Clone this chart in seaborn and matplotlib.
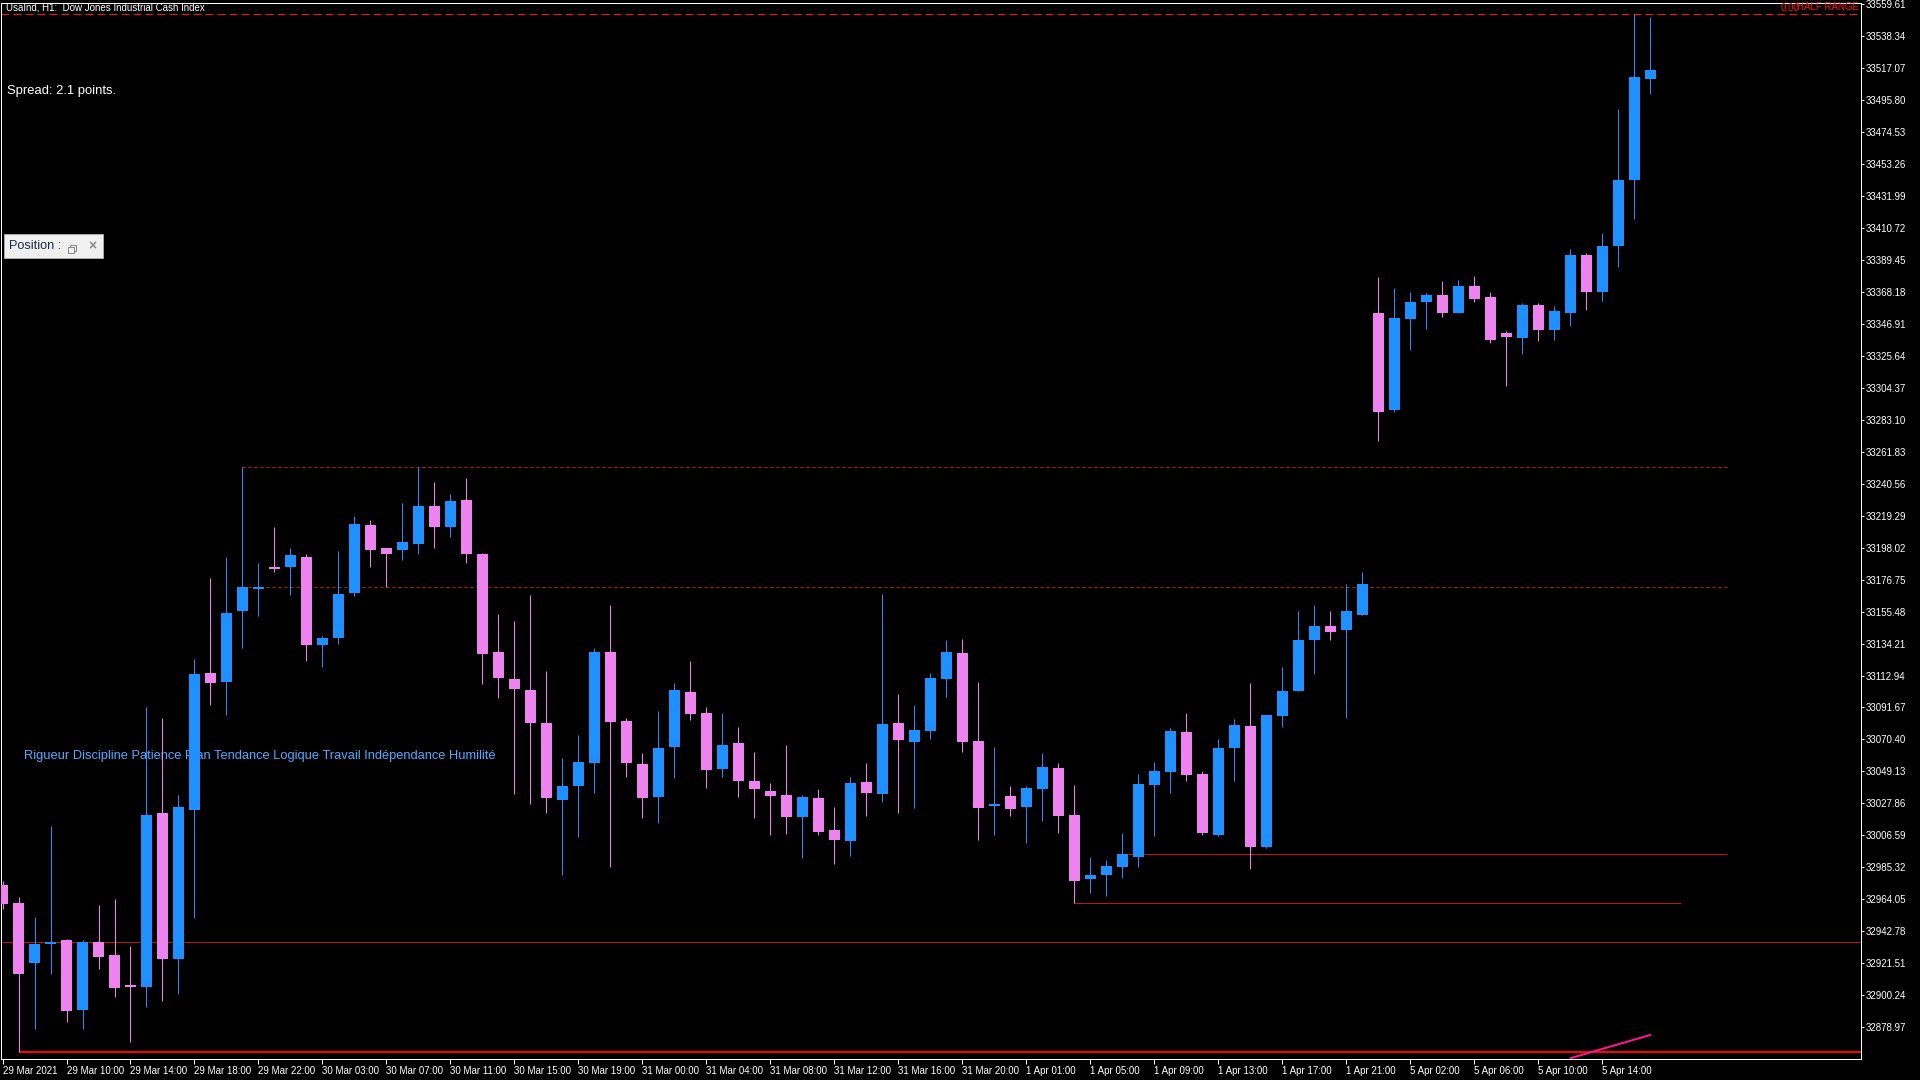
import matplotlib
matplotlib.use("Agg")
import matplotlib.pyplot as plt
from matplotlib.patches import Rectangle
import seaborn as sns
import numpy as np
import pandas as pd

# OHLC H1 - UsaInd
opens = [32973.4, 32961.5, 32922.0, 32934.7, 32937.0, 32890.8, 32935.7, 32926.9, 32906.5, 32906.0,
         33021.2, 32924.6, 33023.5, 33114.9, 33108.4, 33155.7, 33170.7, 33185.1, 33184.9, 33191.8,
         33133.0, 33137.6, 33167.6, 33213.0, 33197.8, 33196.7, 33200.1, 33225.7, 33212.0, 33229.5,
         33193.9, 33128.8, 33110.8, 33103.5, 33081.1, 33030.4, 33039.2, 33055.0, 33128.5, 33082.7,
         33054.1, 33032.1, 33065.6, 33101.9, 33088.0, 33051.0, 33068.0, 33042.8, 33036.1, 33033.5,
         33019.0, 33031.5, 33010.2, 33003.1, 33042.1, 33034.3, 33081.3, 33068.9, 33076.2, 33110.8,
         33127.9, 33069.4, 33026.4, 33032.8, 33025.7, 33037.7, 33051.4, 33020.2, 32977.8, 32980.5,
         32985.8, 32992.5, 33040.4, 33048.6, 33075.1, 33047.4, 33007.2, 33064.6, 33079.4, 32999.0,
         33085.7, 33102.4, 33136.4, 33145.7, 33143.0, 33153.5, 33354.1, 33289.3, 33349.8, 33361.1,
         33365.8, 33354.1, 33372.0, 33364.6, 33340.4, 33337.3, 33359.2, 33342.8, 33354.1, 33392.3,
         33367.7, 33398.5, 33442.3, 33509.4]
highs = [32976.0, 32965.4, 32952.2, 33013.2, 32937.5, 32937.0, 32960.2, 32964.1, 32932.9, 33091.7,
         33085.0, 33033.8, 33124.2, 33177.9, 33191.9, 33251.3, 33188.0, 33211.7, 33197.8, 33193.9,
         33139.4, 33195.7, 33219.0, 33216.4, 33197.8, 33227.7, 33251.3, 33241.7, 33233.7, 33244.3,
         33194.4, 33153.9, 33149.2, 33166.3, 33116.2, 33057.8, 33073.1, 33131.2, 33159.8, 33084.7,
         33061.4, 33089.3, 33107.9, 33122.6, 33092.0, 33088.0, 33078.7, 33062.1, 33041.4, 33066.7,
         33033.5, 33037.4, 33025.5, 33045.4, 33054.7, 33167.1, 33100.6, 33093.3, 33114.6, 33136.5,
         33137.2, 33108.6, 33065.4, 33039.4, 33039.4, 33061.4, 33054.7, 33040.1, 32992.2, 32990.2,
         33008.2, 33047.4, 33055.6, 33077.9, 33088.0, 33049.4, 33070.4, 33084.1, 33107.9, 33086.4,
         33118.4, 33155.9, 33159.8, 33155.9, 33173.8, 33181.6, 33377.9, 33370.5, 33367.7, 33367.3,
         33375.2, 33375.9, 33378.7, 33367.7, 33342.0, 33360.7, 33360.7, 33358.8, 33396.6, 33393.9,
         33407.1, 33489.5, 33552.7, 33550.7]
lows = [32958.0, 32862.6, 32877.6, 32914.5, 32882.8, 32878.1, 32917.9, 32899.3, 32869.6, 32892.8,
        32896.2, 32901.4, 32951.7, 33093.2, 33086.5, 33130.9, 33152.3, 33181.5, 33166.3, 33122.4,
        33118.5, 33133.7, 33165.5, 33185.4, 33171.7, 33190.0, 33193.4, 33197.5, 33204.8, 33187.5,
        33107.2, 33097.9, 33034.1, 33027.4, 33021.4, 32980.4, 33005.7, 33035.0, 32985.8, 33045.6,
        33018.4, 33015.1, 33045.0, 33083.5, 33038.3, 33045.6, 33032.4, 33018.4, 33007.1, 33007.7,
        32991.8, 33007.1, 32987.8, 32993.1, 33019.7, 33029.0, 33021.7, 33025.0, 33070.9, 33098.8,
        33062.3, 33003.7, 33007.1, 33019.7, 33001.8, 33016.4, 33008.4, 32961.4, 32968.5, 32966.5,
        32978.5, 32985.4, 33006.4, 33034.5, 33043.1, 33007.2, 33006.0, 33042.7, 32984.6, 32998.3,
        33079.0, 33102.4, 33114.1, 33136.4, 33084.5, 33153.5, 33268.6, 33288.1, 33329.1, 33343.2,
        33351.4, 33354.1, 33361.1, 33333.8, 33305.3, 33326.8, 33335.4, 33336.1, 33345.1, 33356.1,
        33361.9, 33384.5, 33416.5, 33499.6]
closes = [32961.2, 32914.5, 32934.4, 32936.0, 32890.0, 32935.7, 32925.9, 32905.5, 32906.0, 33019.9,
          32924.6, 33025.3, 33114.1, 33107.9, 33154.7, 33172.0, 33171.5, 33183.8, 33193.1, 33133.0,
          33138.1, 33167.3, 33213.8, 33196.7, 33193.4, 33201.9, 33225.7, 33211.5, 33229.0, 33193.4,
          33127.0, 33111.0, 33103.8, 33081.3, 33031.5, 33039.6, 33055.6, 33128.5, 33082.0, 33055.0,
          33031.7, 33064.7, 33103.3, 33087.5, 33050.1, 33066.7, 33043.0, 33037.7, 33033.0, 33019.0,
          33032.1, 33009.1, 33003.7, 33041.4, 33035.0, 33080.7, 33070.2, 33076.7, 33111.2, 33128.5,
          33068.9, 33025.0, 33027.5, 33024.4, 33038.1, 33052.1, 33019.7, 32976.5, 32980.3, 32986.2,
          32994.2, 33040.8, 33049.4, 33075.9, 33047.0, 33008.4, 33064.6, 33079.8, 32999.0, 33086.4,
          33102.4, 33136.4, 33145.7, 33141.8, 33155.9, 33173.8, 33288.1, 33350.6, 33361.1, 33365.8,
          33354.1, 33372.0, 33363.0, 33336.1, 33338.1, 33359.2, 33342.8, 33355.3, 33392.3, 33367.7,
          33398.5, 33442.3, 33510.9, 33515.6]

# étiquettes de temps (une toutes les 4 barres)
time_labels = ["29 Mar 2021", "29 Mar 10:00", "29 Mar 14:00", "29 Mar 18:00", "29 Mar 22:00",
               "30 Mar 03:00", "30 Mar 07:00", "30 Mar 11:00", "30 Mar 15:00", "30 Mar 19:00",
               "31 Mar 00:00", "31 Mar 04:00", "31 Mar 08:00", "31 Mar 12:00", "31 Mar 16:00",
               "31 Mar 20:00", "1 Apr 01:00", "1 Apr 05:00", "1 Apr 09:00", "1 Apr 13:00",
               "1 Apr 17:00", "1 Apr 21:00", "5 Apr 02:00", "5 Apr 06:00", "5 Apr 10:00",
               "5 Apr 14:00"]

# échelle de prix à droite
price_top = 33559.61
price_step = 21.27
n_price_ticks = 33

# niveaux horizontaux
high_line = 33552.7
low_line = 32862.4
res_levels = [33251.3, 33171.6]
sup_levels = [32994.3, 32961.4]
mid_level = 32935.5

df = pd.DataFrame({"open": opens, "high": highs, "low": lows, "close": closes})
df["bar"] = np.arange(len(df))
df["bull"] = df["close"] >= df["open"]

BULL = "#1E90FF"
BEAR = "#EE82EE"

sns.set_theme(style="dark")
sns.set_style("dark", {"axes.facecolor": "black", "figure.facecolor": "black"})
plt.rcParams["font.family"] = ["Liberation Sans", "DejaVu Sans"]

W, H = 1920, 1080
fig = plt.figure(figsize=(19.2, 10.8), dpi=100)
fig.patch.set_facecolor("black")

# zone du graphique en pixels
left_px, right_px, top_px, bottom_px = 1, 1861, 2.5, 1058.5
ax = fig.add_axes([left_px / W, 1 - bottom_px / H, (right_px - left_px) / W, (bottom_px - top_px) / H])
ax.set_facecolor("black")
ax.grid(False)

PX = 0.72  # 1 pixel en points
ax.set_xlim(-0.094, 116.16)
ax.set_ylim(32858.3, 33560.4)

# mèches + corps
colors = np.where(df["bull"], BULL, BEAR)
ax.vlines(df["bar"], df["low"], df["high"], colors=colors, lw=1.0 * PX, zorder=3)
body_low = df[["open", "close"]].min(axis=1)
body_h = (df["close"] - df["open"]).abs().clip(lower=1.2)
ax.bar(df["bar"], body_h, bottom=body_low, width=0.69, color=colors, linewidth=0, zorder=4)

# lignes horizontales
ax.axhline(high_line, color="#FF1010", lw=1.0 * PX, dashes=(8, 4), zorder=2)
for lv in res_levels:
    ax.hlines(lv, 15, 107.8, color="#C81818", lw=1.0 * PX, linestyles=(0, (3, 3)), zorder=2)
ax.hlines(sup_levels[0], 70, 107.8, color="#C81010", lw=1.0 * PX, zorder=2)
ax.hlines(sup_levels[1], 67, 104.9, color="#C81010", lw=1.0 * PX, zorder=2)
ax.axhline(mid_level, color="#C01010", lw=1.0 * PX, zorder=2)
ax.hlines(low_line, 1, 117, color="#FF0000", lw=2.0 * PX, zorder=2)
ax.plot([98, 103], [32858.5, 32874.0], color="#FF1493", lw=2.0 * PX, zorder=5)

# axe des prix
yt = [price_top - k * price_step for k in range(n_price_ticks)]
ax.yaxis.tick_right()
ax.set_yticks(yt)
ax.set_yticklabels([f"{v:.2f}" for v in yt])
ax.tick_params(axis="y", colors="white", labelcolor="white", labelsize=7, length=3 * PX,
               width=1 * PX, pad=1, right=True, left=False)

# axe du temps
ax.set_xticks(np.arange(0, 104, 4))
ax.set_xticklabels(time_labels, ha="left")
ax.tick_params(axis="x", colors="white", labelcolor="white", labelsize=7, length=5 * PX,
               width=1 * PX, pad=1.5, bottom=True)
for s in ax.spines.values():
    s.set_color("white")
    s.set_linewidth(1.0 * PX)

# textes
fig.text(6 / W, 1 - 8 / H, "UsaInd, H1:  Dow Jones Industrial Cash Index", color="white",
         fontsize=7, va="center", ha="left")
fig.text(7 / W, 1 - 91 / H, "Spread: 2.1 points.", color="white", fontsize=9.4,
         va="center", ha="left")
ax.text(24 / W, 1 - 756 / H, "Rigueur Discipline Patience Plan Tendance Logique Travail Indépendance Humilité",
        transform=fig.transFigure, color="#55AAFF", fontsize=9.3, va="center", ha="left", zorder=1)
fig.text(1781 / W, 1 - 7 / H, "0,00", color="#FF1010", fontsize=7, va="center", ha="left")
fig.text(1859 / W, 1 - 7 / H, "HALF RANGE", color="#FF1010", fontsize=7, va="center", ha="right")

# petite fenêtre "Position"
fig.patches.append(Rectangle((4 / W, 1 - 258 / H), 99 / W, 24 / H, transform=fig.transFigure,
                             facecolor="#F0F0F0", edgecolor="#A8A8A8", lw=1 * PX, zorder=10))
fig.text(9 / W, 1 - 246 / H, "Position :", color="#1A2A4A", fontsize=9.2, va="center", ha="left",
         zorder=11)
fig.patches.append(Rectangle((70 / W, 1 - 251 / H), 6 / W, 6 / H, transform=fig.transFigure,
                             facecolor="none", edgecolor="#8A8A8A", lw=1 * PX, zorder=11))
fig.patches.append(Rectangle((68 / W, 1 - 253 / H), 6 / W, 6 / H, transform=fig.transFigure,
                             facecolor="#F0F0F0", edgecolor="#8A8A8A", lw=1 * PX, zorder=12))
fig.text(92 / W, 1 - 246 / H, "×", color="#8A8A8A", fontsize=10, fontweight="bold",
         va="center", ha="center", zorder=11)

fig.savefig("out.png", dpi=100, facecolor="black")
